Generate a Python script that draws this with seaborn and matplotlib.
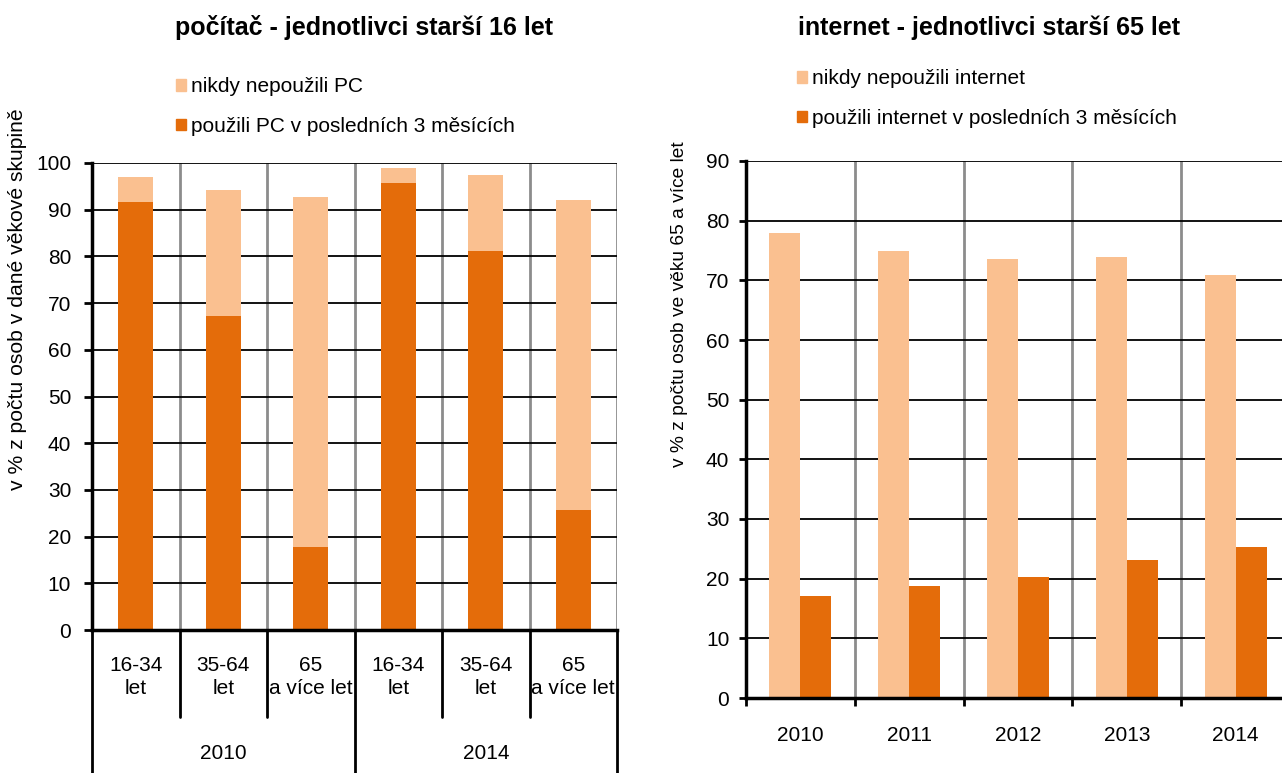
import numpy as np
import pandas as pd
import matplotlib
matplotlib.use("Agg")
import matplotlib.pyplot as plt
from matplotlib.patches import Patch
from matplotlib.transforms import blended_transform_factory
import seaborn as sns

# values
pc_years = ["2010", "2014"]
age_groups = ["16-34\nlet", "35-64\nlet", "65\na více let"]
pc_used = [91.7, 67.3, 17.7, 95.8, 81.2, 25.7]
pc_never = [5.2, 27.0, 75.1, 3.2, 16.3, 66.4]

net_years = ["2010", "2011", "2012", "2013", "2014"]
net_never = [78.0, 74.9, 73.6, 73.9, 70.9]
net_used = [17.1, 18.8, 20.3, 23.1, 25.3]

light = "#FAC090"
dark = "#E46C0A"
grey = "#8C8C8C"

sns.set_style("white")
plt.rcParams["font.family"] = ["Liberation Sans", "DejaVu Sans"]
plt.rcParams["font.size"] = 15
plt.rcParams["text.color"] = "black"
plt.rcParams["xtick.labelcolor"] = "black"
plt.rcParams["ytick.labelcolor"] = "black"

W, H = 1282, 773
fig = plt.figure(figsize=(W / 100, H / 100), dpi=100)
ax1 = fig.add_axes([92 / W, 143 / H, 525 / W, 467 / H])
ax2 = fig.add_axes([746 / W, 75 / H, 544 / W, 537 / H])

# ---- left chart: stacked bars (used + never used)
keys = [f"{y} {a}" for y in pc_years for a in age_groups]
df_pc = pd.DataFrame({"key": keys, "used": pc_used,
                      "total": np.add(pc_used, pc_never)})
sns.barplot(data=df_pc, x="key", y="total", color=light, width=0.4,
            saturation=1, linewidth=0, ax=ax1)
sns.barplot(data=df_pc, x="key", y="used", color=dark, width=0.4,
            saturation=1, linewidth=0, ax=ax1)
n = len(keys)
ax1.set_xlim(-0.5, n - 0.5)
ax1.set_ylim(0, 100)
ax1.set_yticks(range(0, 101, 10))
ax1.yaxis.grid(True, color="black", lw=1.3)
ax1.set_axisbelow(True)
for b in np.arange(0.5, n, 1):
    ax1.axvline(b, color=grey, lw=2, zorder=0.5)
for s in ["top", "right"]:
    ax1.spines[s].set_visible(False)
for s in ["left", "bottom"]:
    ax1.spines[s].set_color("black")
    ax1.spines[s].set_linewidth(2.5)
ax1.set_xlabel("")
ax1.set_ylabel("")
ax1.set_xticks(range(n))
ax1.set_xticklabels(age_groups * len(pc_years), linespacing=1.22)
ax1.tick_params(axis="x", length=0, pad=19)
ax1.tick_params(axis="y", left=True, direction="out", length=6, width=2,
                pad=9, color="black")

# category table under the left chart
tr = blended_transform_factory(ax1.transData, ax1.transAxes)
k = len(age_groups)
for i in range(n + 1):
    x = i - 0.5
    y_end = -0.31 if i % k == 0 else -0.186
    ax1.plot([x, x], [0, y_end], color="black", lw=2, transform=tr,
             clip_on=False)
for j, yr in enumerate(pc_years):
    ax1.text(j * k + (k - 1) / 2, -0.264, yr, transform=tr, ha="center",
             va="center")

# ---- right chart: grouped bars
df_net = pd.DataFrame({
    "year": net_years * 2,
    "value": net_never + net_used,
    "series": ["never"] * len(net_years) + ["used"] * len(net_years),
})
sns.barplot(data=df_net, x="year", y="value", hue="series",
            palette=[light, dark], width=0.57, saturation=1, linewidth=0,
            legend=False, ax=ax2)
m = len(net_years)
ax2.set_xlim(-0.5, m - 0.5)
ax2.set_ylim(0, 90)
ax2.set_yticks(range(0, 91, 10))
ax2.yaxis.grid(True, color="black", lw=1.3)
ax2.set_axisbelow(True)
for b in np.arange(0.5, m, 1):
    ax2.axvline(b, color=grey, lw=2, zorder=0.5)
for s in ["top", "right"]:
    ax2.spines[s].set_visible(False)
for s in ["left", "bottom"]:
    ax2.spines[s].set_color("black")
    ax2.spines[s].set_linewidth(2.5)
ax2.set_xlabel("")
ax2.set_ylabel("")
ax2.set_xticks(np.arange(-0.5, m, 1), minor=True)
ax2.tick_params(axis="x", which="major", length=0, pad=20)
ax2.tick_params(axis="x", which="minor", bottom=True, direction="out",
                length=6, width=2, color="black")
ax2.tick_params(axis="y", left=True, direction="out", length=5, width=2,
                pad=7, color="black")

# ---- titles, axis labels, legends
fig.text(364 / W, 1 - 28 / H, "počítač - jednotlivci starší 16 let",
         ha="center", va="center", fontsize=18, weight="bold")
fig.text(989 / W, 1 - 28 / H, "internet - jednotlivci starší 65 let",
         ha="center", va="center", fontsize=18, weight="bold")
fig.text(18 / W, 1 - 299 / H, "v % z počtu osob v dané věkové skupině",
         rotation=90, ha="center", va="center", fontsize=15.2)
fig.text(680 / W, 1 - 304 / H, "v % z počtu osob ve věku 65 a více let",
         rotation=90, ha="center", va="center", fontsize=13.8)

leg_kw = dict(loc="upper left", frameon=False, handlelength=0.5,
              handleheight=0.5, handletextpad=0.2, labelspacing=1.0,
              borderpad=0, borderaxespad=0, fontsize=15)
fig.legend([Patch(color=light), Patch(color=dark)],
           ["nikdy nepoužili PC", "použili PC v posledních 3 měsících"],
           bbox_to_anchor=(176 / W, 1 - 77 / H), **leg_kw)
fig.legend([Patch(color=light), Patch(color=dark)],
           ["nikdy nepoužili internet",
            "použili internet v posledních 3 měsících"],
           bbox_to_anchor=(797 / W, 1 - 69 / H), **leg_kw)

fig.savefig("out.png", dpi=100)
